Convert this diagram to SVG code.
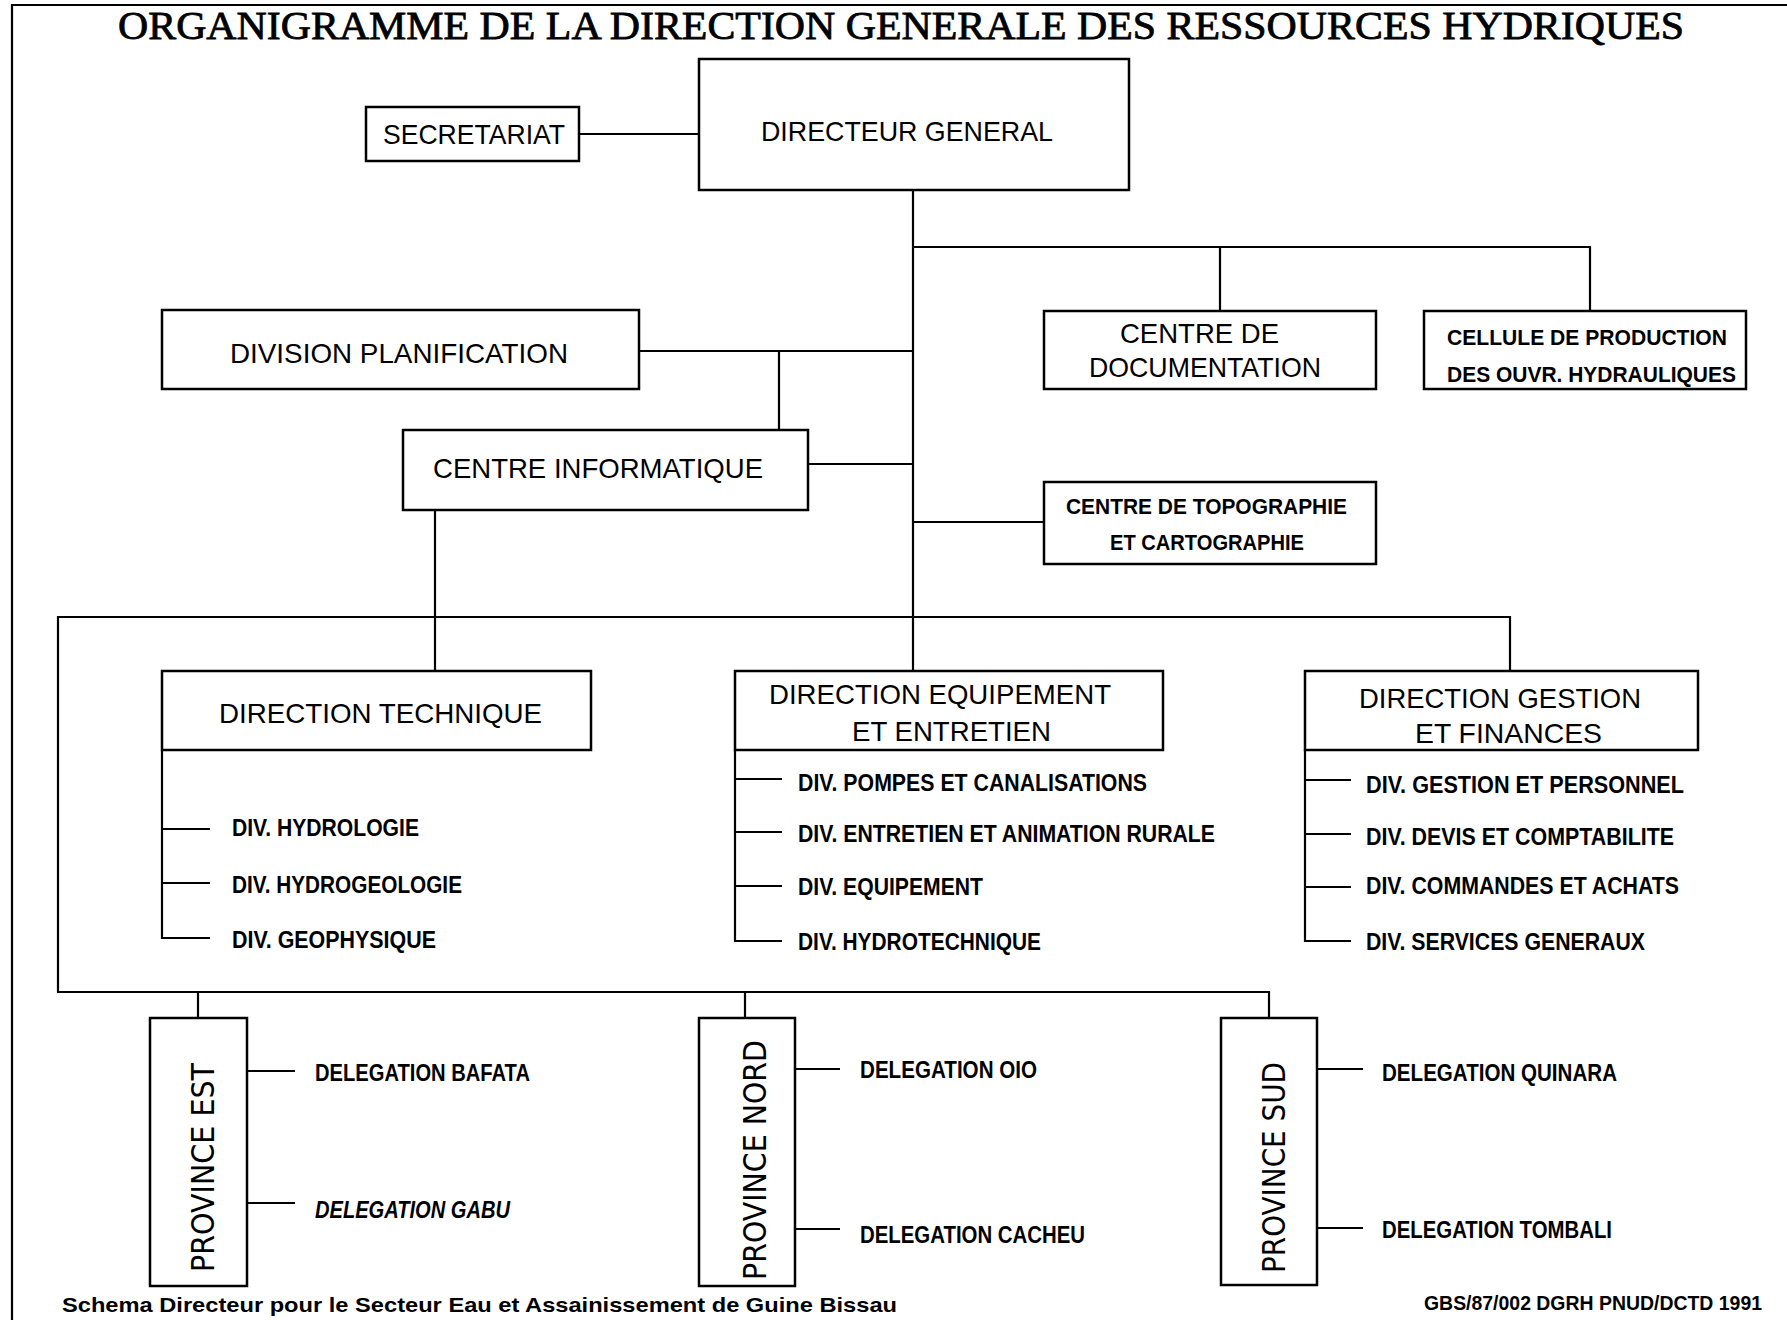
<svg xmlns="http://www.w3.org/2000/svg" width="1787" height="1320" viewBox="0 0 1787 1320">
<style>
.bg{fill:#fff}
.box{fill:#fff;stroke:#000;stroke-width:2.5}
.ln{stroke:#000;stroke-width:2.2;fill:none}
.title{font-family:"Liberation Serif","Times New Roman",serif;font-size:40px;fill:#000;stroke:#000;stroke-width:0.8}
.t{font-family:"Liberation Sans Narrow","Liberation Sans",Arial,sans-serif;font-size:28px;fill:#000}
.ts{font-family:"Liberation Sans Narrow","Liberation Sans",Arial,sans-serif;font-size:22px;font-weight:bold;fill:#000}
.s{font-family:"Liberation Sans Narrow","Liberation Sans",Arial,sans-serif;font-size:23px;font-weight:bold;fill:#000}
.p{font-family:"DejaVu Sans","Liberation Sans",sans-serif;font-size:32px;fill:#000}
.f{font-family:"Liberation Sans","DejaVu Sans",sans-serif;font-size:21px;font-weight:bold;fill:#000}
</style>
<rect class="bg" x="0" y="0" width="1787" height="1320"/>
<path class="ln" d="M12,1320 V5 H1787"/>
<text class="title" x="118" y="39" textLength="1566" lengthAdjust="spacingAndGlyphs">ORGANIGRAMME DE LA DIRECTION GENERALE DES RESSOURCES HYDRIQUES</text>

<g id="connectors">
<path class="ln" d="M579,134 H699"/>
<path class="ln" d="M913,189 V671"/>
<path class="ln" d="M913,247 H1590 V311 M1220,247 V311"/>
<path class="ln" d="M639,351 H913 M779,351 V430"/>
<path class="ln" d="M808,464 H913"/>
<path class="ln" d="M913,522 H1044"/>
<path class="ln" d="M435,510 V671"/>
<path class="ln" d="M1510,671 V617 H58 V992 H1269 V1018"/>
<path class="ln" d="M198,992 V1018 M745,992 V1018"/>
<path class="ln" d="M162,750 V938 H210 M162,829 H210 M162,883 H210"/>
<path class="ln" d="M735,750 V941 H782 M735,779 H782 M735,832 H782 M735,886 H782"/>
<path class="ln" d="M1305,750 V941 H1351 M1305,780 H1351 M1305,834 H1351 M1305,887 H1351"/>
<path class="ln" d="M247,1071 H295 M247,1203 H295"/>
<path class="ln" d="M795,1069 H840 M795,1229 H840"/>
<path class="ln" d="M1317,1069 H1363 M1317,1228 H1363"/>
</g>

<g id="directeur-general">
<rect class="box" x="699" y="59" width="430" height="131"/>
<text class="t" x="761" y="141" textLength="292" lengthAdjust="spacingAndGlyphs">DIRECTEUR GENERAL</text>
</g>
<g id="secretariat">
<rect class="box" x="366" y="107" width="213" height="54"/>
<text class="t" x="383" y="144" textLength="182" lengthAdjust="spacingAndGlyphs">SECRETARIAT</text>
</g>
<g id="centre-documentation">
<rect class="box" x="1044" y="311" width="332" height="78"/>
<text class="t" x="1120" y="343" textLength="159" lengthAdjust="spacingAndGlyphs">CENTRE DE</text>
<text class="t" x="1089" y="377" textLength="232" lengthAdjust="spacingAndGlyphs">DOCUMENTATION</text>
</g>
<g id="cellule-production">
<rect class="box" x="1424" y="311" width="322" height="78"/>
<text class="ts" x="1447" y="345" textLength="280" lengthAdjust="spacingAndGlyphs">CELLULE DE PRODUCTION</text>
<text class="ts" x="1447" y="382" textLength="289" lengthAdjust="spacingAndGlyphs">DES OUVR. HYDRAULIQUES</text>
</g>
<g id="division-planification">
<rect class="box" x="162" y="310" width="477" height="79"/>
<text class="t" x="230" y="363" textLength="338" lengthAdjust="spacingAndGlyphs">DIVISION PLANIFICATION</text>
</g>
<g id="centre-informatique">
<rect class="box" x="403" y="430" width="405" height="80"/>
<text class="t" x="433" y="478" textLength="330" lengthAdjust="spacingAndGlyphs">CENTRE INFORMATIQUE</text>
</g>
<g id="centre-topographie">
<rect class="box" x="1044" y="482" width="332" height="82"/>
<text class="ts" x="1066" y="514" textLength="281" lengthAdjust="spacingAndGlyphs">CENTRE DE TOPOGRAPHIE</text>
<text class="ts" x="1110" y="550" textLength="194" lengthAdjust="spacingAndGlyphs">ET CARTOGRAPHIE</text>
</g>

<g id="direction-technique">
<rect class="box" x="162" y="671" width="429" height="79"/>
<text class="t" x="219" y="723" textLength="323" lengthAdjust="spacingAndGlyphs">DIRECTION TECHNIQUE</text>
<text class="s" x="232" y="836" textLength="187" lengthAdjust="spacingAndGlyphs">DIV. HYDROLOGIE</text>
<text class="s" x="232" y="893" textLength="230" lengthAdjust="spacingAndGlyphs">DIV. HYDROGEOLOGIE</text>
<text class="s" x="232" y="948" textLength="204" lengthAdjust="spacingAndGlyphs">DIV. GEOPHYSIQUE</text>
</g>
<g id="direction-equipement">
<rect class="box" x="735" y="671" width="428" height="79"/>
<text class="t" x="769" y="704" textLength="342" lengthAdjust="spacingAndGlyphs">DIRECTION EQUIPEMENT</text>
<text class="t" x="852" y="741" textLength="199" lengthAdjust="spacingAndGlyphs">ET ENTRETIEN</text>
<text class="s" x="798" y="791" textLength="349" lengthAdjust="spacingAndGlyphs">DIV. POMPES ET CANALISATIONS</text>
<text class="s" x="798" y="842" textLength="417" lengthAdjust="spacingAndGlyphs">DIV. ENTRETIEN ET ANIMATION RURALE</text>
<text class="s" x="798" y="895" textLength="185" lengthAdjust="spacingAndGlyphs">DIV. EQUIPEMENT</text>
<text class="s" x="798" y="950" textLength="243" lengthAdjust="spacingAndGlyphs">DIV. HYDROTECHNIQUE</text>
</g>
<g id="direction-gestion">
<rect class="box" x="1305" y="671" width="393" height="79"/>
<text class="t" x="1359" y="708" textLength="282" lengthAdjust="spacingAndGlyphs">DIRECTION GESTION</text>
<text class="t" x="1415" y="743" textLength="187" lengthAdjust="spacingAndGlyphs">ET FINANCES</text>
<text class="s" x="1366" y="793" textLength="318" lengthAdjust="spacingAndGlyphs">DIV. GESTION ET PERSONNEL</text>
<text class="s" x="1366" y="845" textLength="308" lengthAdjust="spacingAndGlyphs">DIV. DEVIS ET COMPTABILITE</text>
<text class="s" x="1366" y="894" textLength="313" lengthAdjust="spacingAndGlyphs">DIV. COMMANDES ET ACHATS</text>
<text class="s" x="1366" y="950" textLength="279" lengthAdjust="spacingAndGlyphs">DIV. SERVICES GENERAUX</text>
</g>

<g id="province-est">
<rect class="box" x="150" y="1018" width="97" height="268"/>
<text class="p" transform="translate(214,1272) rotate(-90)" textLength="209" lengthAdjust="spacingAndGlyphs">PROVINCE EST</text>
<text class="s" x="315" y="1081" textLength="215" lengthAdjust="spacingAndGlyphs">DELEGATION BAFATA</text>
<text class="s" x="315" y="1218" font-style="italic" textLength="195" lengthAdjust="spacingAndGlyphs">DELEGATION GABU</text>
</g>
<g id="province-nord">
<rect class="box" x="699" y="1018" width="96" height="268"/>
<text class="p" transform="translate(766,1280) rotate(-90)" textLength="240" lengthAdjust="spacingAndGlyphs">PROVINCE NORD</text>
<text class="s" x="860" y="1078" textLength="177" lengthAdjust="spacingAndGlyphs">DELEGATION OIO</text>
<text class="s" x="860" y="1243" textLength="225" lengthAdjust="spacingAndGlyphs">DELEGATION CACHEU</text>
</g>
<g id="province-sud">
<rect class="box" x="1221" y="1018" width="96" height="267"/>
<text class="p" transform="translate(1285,1273) rotate(-90)" textLength="211" lengthAdjust="spacingAndGlyphs">PROVINCE SUD</text>
<text class="s" x="1382" y="1081" textLength="235" lengthAdjust="spacingAndGlyphs">DELEGATION QUINARA</text>
<text class="s" x="1382" y="1238" textLength="230" lengthAdjust="spacingAndGlyphs">DELEGATION TOMBALI</text>
</g>

<text class="f" x="62" y="1312" textLength="835" lengthAdjust="spacingAndGlyphs">Schema Directeur pour le Secteur Eau et Assainissement de Guine Bissau</text>
<text class="f" x="1424" y="1310" font-size="16" textLength="338" lengthAdjust="spacingAndGlyphs">GBS/87/002 DGRH PNUD/DCTD  1991</text>
</svg>
